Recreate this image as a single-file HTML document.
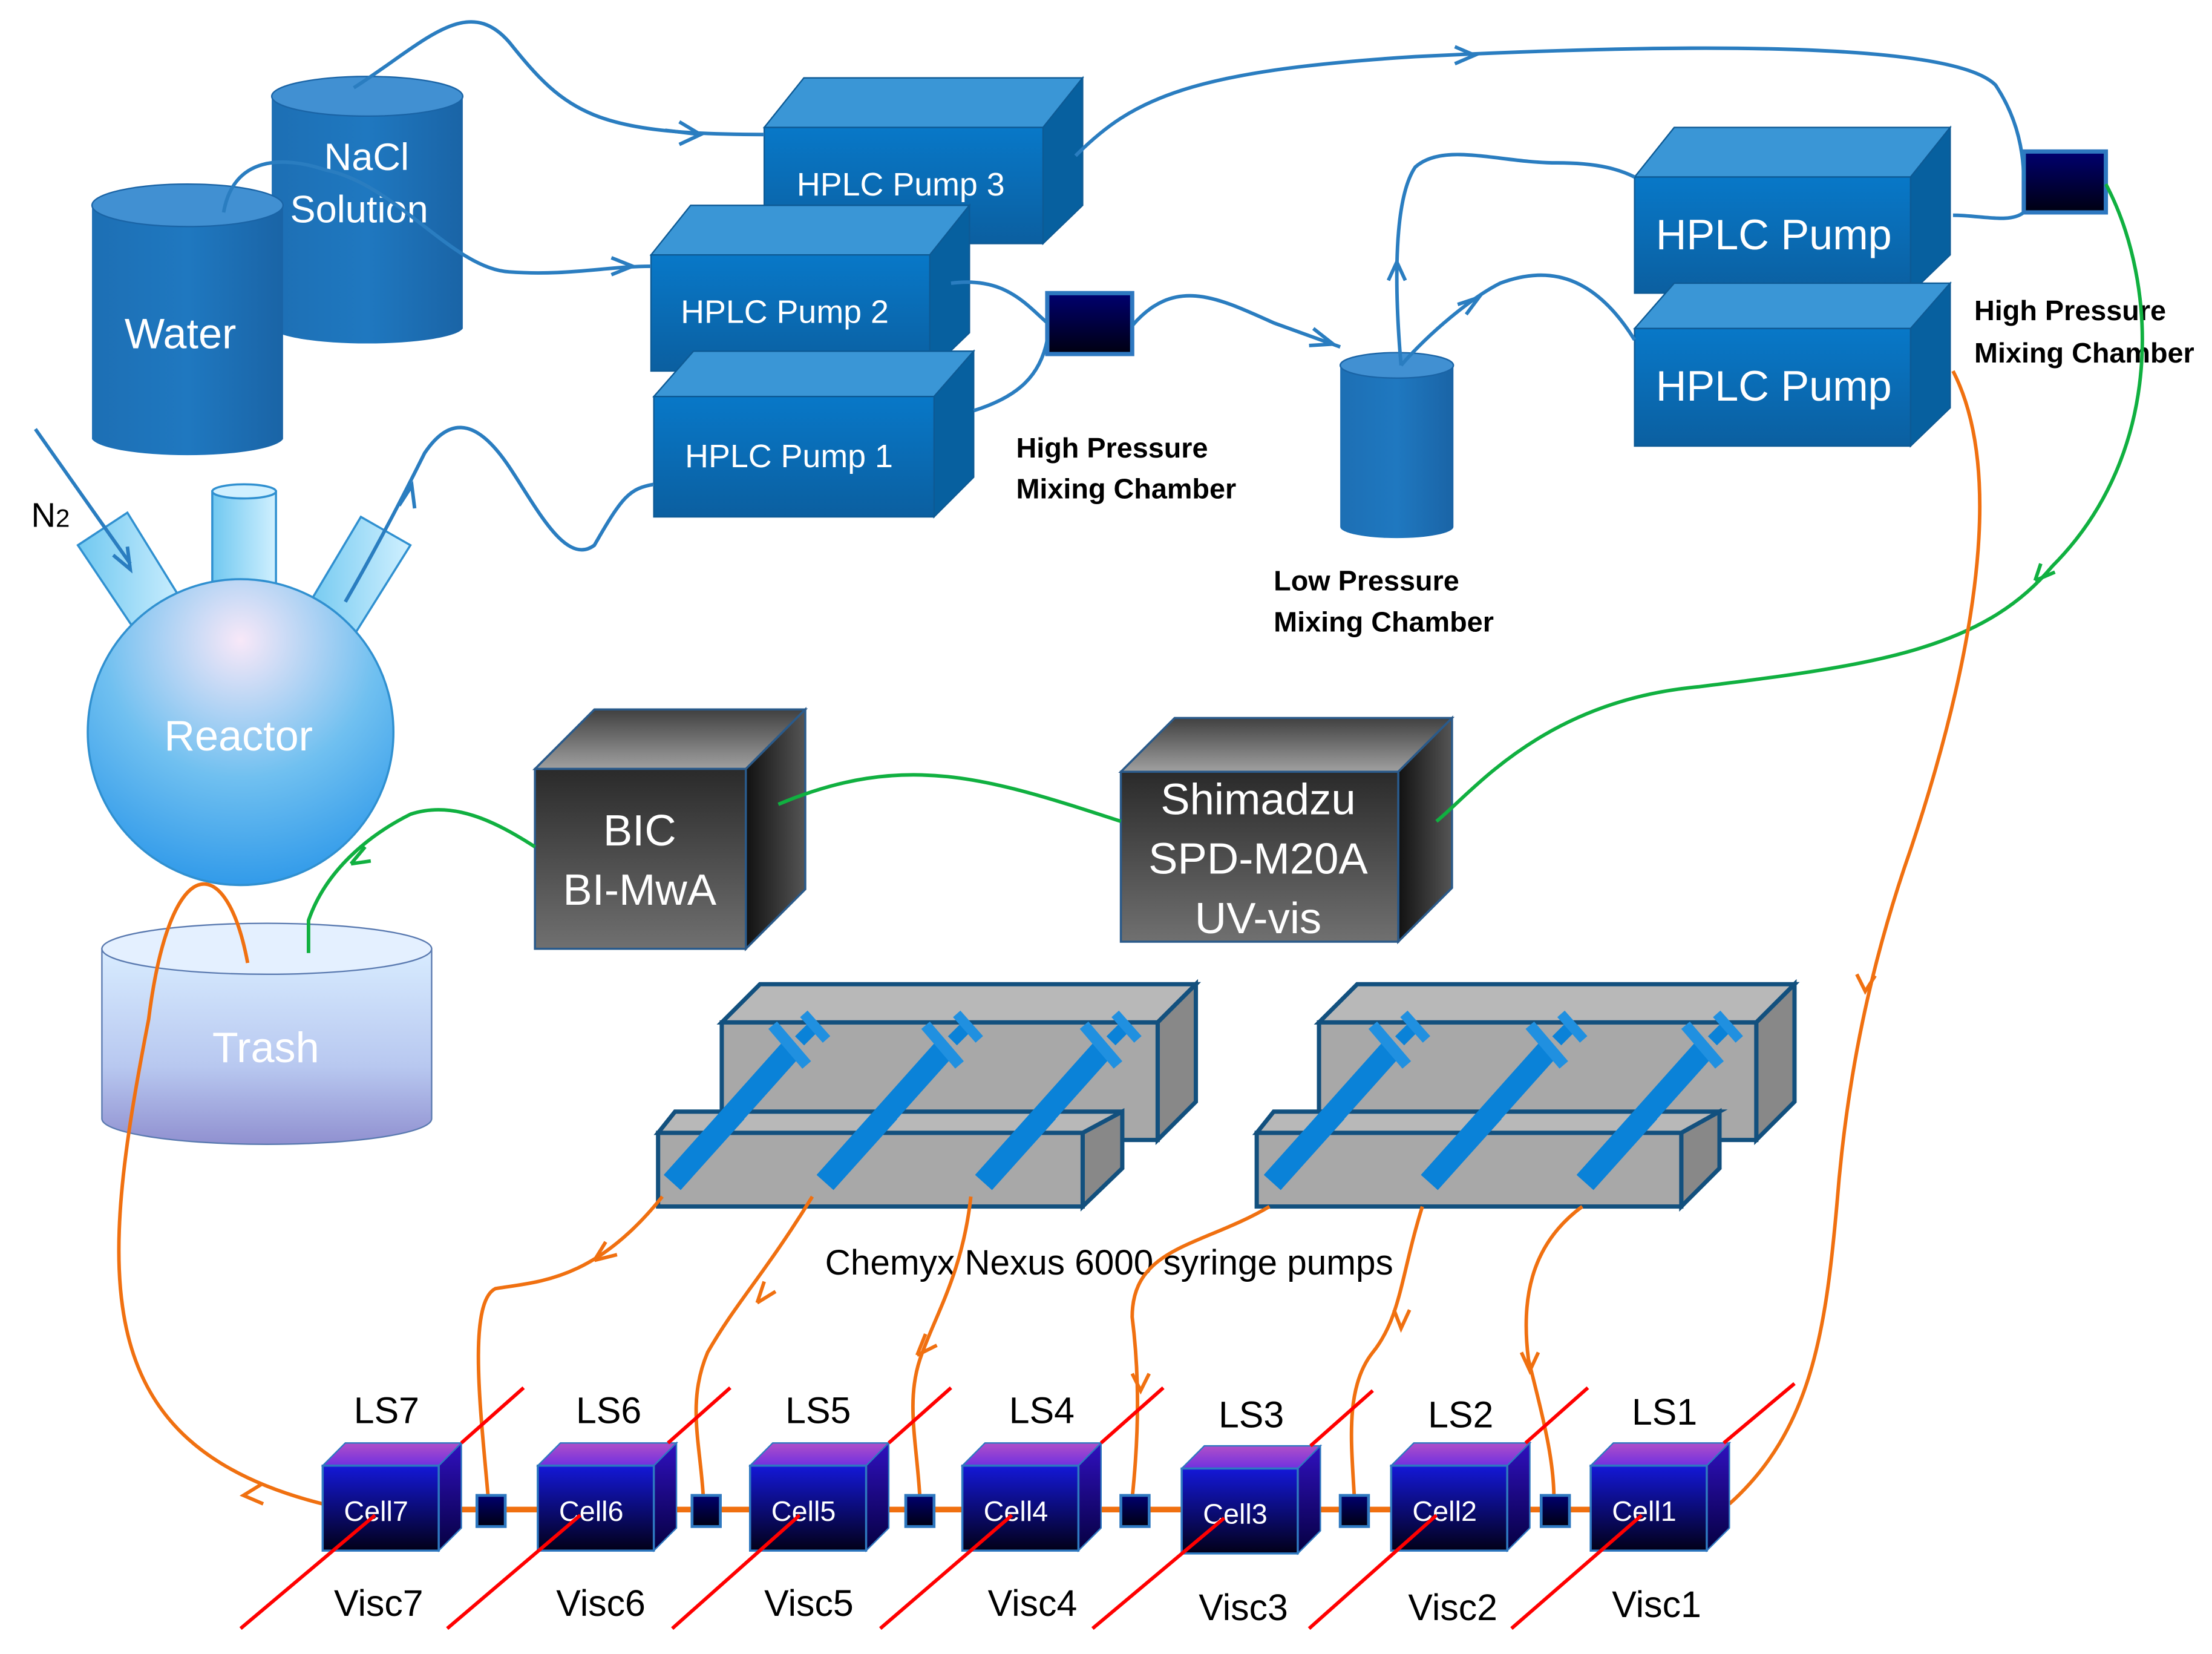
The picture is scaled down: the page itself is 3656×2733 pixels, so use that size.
<!DOCTYPE html>
<html><head><meta charset="utf-8"><style>
html,body{margin:0;padding:0;background:#fff;}
svg{display:block;}
text{font-family:"Liberation Sans","DejaVu Sans",sans-serif;}
</style></head><body>
<svg width="3656" height="2733" viewBox="0 0 1563 1168" preserveAspectRatio="none" xmlns="http://www.w3.org/2000/svg">
<defs>
<linearGradient id="bf" x1="0" y1="0" x2="0" y2="1"><stop offset="0" stop-color="#0878c8"/><stop offset="1" stop-color="#0b5fa0"/></linearGradient>
<linearGradient id="cyl" x1="0" y1="0" x2="1" y2="0"><stop offset="0" stop-color="#1d6fb4"/><stop offset="0.5" stop-color="#1f78c0"/><stop offset="1" stop-color="#1a64a6"/></linearGradient>
<linearGradient id="dk" x1="0" y1="0" x2="0" y2="1"><stop offset="0" stop-color="#2a2a2a"/><stop offset="1" stop-color="#707070"/></linearGradient>
<linearGradient id="dkt" x1="0" y1="0" x2="0" y2="1"><stop offset="0" stop-color="#404040"/><stop offset="1" stop-color="#a0a0a0"/></linearGradient>
<linearGradient id="dks" x1="0" y1="0" x2="1" y2="0"><stop offset="0" stop-color="#111"/><stop offset="1" stop-color="#555"/></linearGradient>
<linearGradient id="cf" x1="0" y1="0" x2="0" y2="1"><stop offset="0" stop-color="#1418d8"/><stop offset="1" stop-color="#020018"/></linearGradient>
<linearGradient id="ct" x1="0" y1="0" x2="0" y2="1"><stop offset="0" stop-color="#b050c8"/><stop offset="1" stop-color="#7030e0"/></linearGradient>
<linearGradient id="cs" x1="0" y1="0" x2="0" y2="1"><stop offset="0" stop-color="#3010c0"/><stop offset="1" stop-color="#050040"/></linearGradient>
<linearGradient id="mc" x1="0" y1="0" x2="0" y2="1"><stop offset="0" stop-color="#000070"/><stop offset="1" stop-color="#000010"/></linearGradient>
<radialGradient id="rg" cx="0.5" cy="0.2" r="0.9"><stop offset="0" stop-color="#f8e8f8"/><stop offset="0.5" stop-color="#70c0f0"/><stop offset="1" stop-color="#2090e8"/></radialGradient>
<linearGradient id="tr" x1="0" y1="0" x2="0" y2="1"><stop offset="0" stop-color="#d8ecff"/><stop offset="0.6" stop-color="#b8c8f0"/><stop offset="1" stop-color="#9090d0"/></linearGradient>
<linearGradient id="nk" x1="0" y1="0" x2="1" y2="0"><stop offset="0" stop-color="#70c8f0"/><stop offset="1" stop-color="#d0f0ff"/></linearGradient>
</defs>

<g stroke="#0d5a95" stroke-width="1">
<polygon points="540,90 568,55 765,55 737,90" fill="#3a96d6"/><polygon points="737,90 765,55 765,145 737,172" fill="#07609f"/><rect x="540" y="90" width="197" height="82" fill="url(#bf)"/>
<polygon points="460,180 488,145 685,145 657,180" fill="#3a96d6"/><polygon points="657,180 685,145 685,235 657,262" fill="#07609f"/><rect x="460" y="180" width="197" height="82" fill="url(#bf)"/>
<polygon points="462,280 490,248 688,248 660,280" fill="#3a96d6"/><polygon points="660,280 688,248 688,337 660,365" fill="#07609f"/><rect x="462" y="280" width="198" height="85" fill="url(#bf)"/>
<polygon points="1155,125 1183,90 1378,90 1350,125" fill="#3a96d6"/><polygon points="1350,125 1378,90 1378,180 1350,207" fill="#07609f"/><rect x="1155" y="125" width="195" height="82" fill="url(#bf)"/>
<polygon points="1155,232 1183,200 1378,200 1350,232" fill="#3a96d6"/><polygon points="1350,232 1378,200 1378,288 1350,315" fill="#07609f"/><rect x="1155" y="232" width="195" height="83" fill="url(#bf)"/>
</g>
<g fill="#fff" font-size="23">
<text x="563" y="138">HPLC Pump 3</text><text x="481" y="228">HPLC Pump 2</text><text x="484" y="330">HPLC Pump 1</text>
</g>
<g fill="#fff" font-size="30"><text x="1170" y="176">HPLC Pump</text><text x="1170" y="283">HPLC Pump</text></g>

<g>
<path d="M192,68 L192,232 A68,12 0 0 0 327,232 L327,68 Z" fill="url(#cyl)"/><ellipse cx="259.5" cy="68" rx="67.5" ry="14" fill="#4190d2" stroke="#1a64a6"/>
<path d="M65,145 L65,310 A68,13 0 0 0 200,310 L200,145 Z" fill="url(#cyl)"/><ellipse cx="132.5" cy="145" rx="67.5" ry="15" fill="#4190d2" stroke="#1a64a6"/>
<path d="M947,258 L947,372 A40,8 0 0 0 1027,372 L1027,258 Z" fill="url(#cyl)"/><ellipse cx="987" cy="258" rx="40" ry="9" fill="#4190d2" stroke="#1a64a6"/>
</g>
<g fill="#fff" font-size="27"><text x="229" y="120">NaCl</text><text x="205" y="157">Solution</text><text x="88" y="246" font-size="30">Water</text></g>

<rect x="740" y="207" width="60" height="43" fill="url(#mc)" stroke="#2e78c0" stroke-width="3"/>
<rect x="1430" y="107" width="58" height="43" fill="url(#mc)" stroke="#2e78c0" stroke-width="3"/>

<g font-weight="bold" font-size="20" fill="#000">
<text x="718" y="323">High Pressure</text><text x="718" y="352">Mixing Chamber</text>
<text x="900" y="417">Low Pressure</text><text x="900" y="446">Mixing Chamber</text>
<text x="1395" y="226">High Pressure</text><text x="1395" y="256">Mixing Chamber</text>
</g>

<g stroke="#3090d0" stroke-width="1.5">
<polygon points="55,385 90,362 132,430 100,452" fill="url(#nk)"/>
<rect x="150" y="347" width="45" height="85" fill="url(#nk)"/><ellipse cx="172.5" cy="347" rx="22.5" ry="5" fill="#d0f0ff"/>
<polygon points="255,365 290,385 248,452 215,432" fill="url(#nk)"/>
<circle cx="170" cy="517" r="108" fill="url(#rg)"/>
</g>
<text x="116" y="530" fill="#fff" font-size="30">Reactor</text>
<text x="22" y="372" font-size="24">N<tspan font-size="18">2</tspan></text>

<path d="M72,670 L72,790 A116,18 0 0 0 305,790 L305,670 Z" fill="url(#tr)" stroke="#5a7ab0"/>
<ellipse cx="188.5" cy="670" rx="116.5" ry="18" fill="#e4f0ff" stroke="#5a7ab0"/>
<text x="150" y="750" fill="#fff" font-size="30">Trash</text>

<g stroke="#2a5a8a" stroke-width="1.5">
<polygon points="378,543 420,501 569,501 527,543" fill="url(#dkt)"/><polygon points="527,543 569,501 569,628 527,670" fill="url(#dks)"/><rect x="378" y="543" width="149" height="127" fill="url(#dk)"/>
<polygon points="792,545 830,507 1026,507 988,545" fill="url(#dkt)"/><polygon points="988,545 1026,507 1026,627 988,665" fill="url(#dks)"/><rect x="792" y="545" width="196" height="120" fill="url(#dk)"/>
</g>
<g fill="#fff" font-size="31" text-anchor="middle">
<text x="452" y="597">BIC</text><text x="452" y="639">BI-MwA</text>
<text x="889" y="575">Shimadzu</text><text x="889" y="617">SPD-M20A</text><text x="889" y="659">UV-vis</text>
</g>

<g stroke="#12507e" stroke-width="3">
<polygon points="510,722 537,695 845,695 818,722" fill="#b8b8b8"/><polygon points="818,722 845,695 845,778 818,805" fill="#888"/><rect x="510" y="722" width="308" height="83" fill="#a8a8a8"/>
<polygon points="932,722 959,695 1268,695 1241,722" fill="#b8b8b8"/><polygon points="1241,722 1268,695 1268,778 1241,805" fill="#888"/><rect x="932" y="722" width="309" height="83" fill="#a8a8a8"/>
</g>
<g stroke-linecap="butt">
<g id="syr"><line x1="475" y1="835" x2="560" y2="740" stroke-width="16" stroke="#0a82d8"/><line x1="546" y1="724" x2="570" y2="752" stroke-width="8" stroke="#2090e0"/><line x1="565" y1="735" x2="575" y2="725" stroke-width="9" stroke="#0a82d8"/><line x1="568" y1="716" x2="584" y2="734" stroke-width="7" stroke="#2090e0"/></g>
</g>
<g stroke="#12507e" stroke-width="3">
<polygon points="465,800 477,785 793,785 765,800" fill="#b8b8b8"/><polygon points="765,800 793,785 793,825 765,852" fill="#888"/><rect x="465" y="800" width="300" height="52" fill="#a8a8a8"/>
<polygon points="888,800 900,785 1215,785 1188,800" fill="#b8b8b8"/><polygon points="1188,800 1215,785 1215,825 1188,852" fill="#888"/><rect x="888" y="800" width="300" height="52" fill="#a8a8a8"/>
</g>
<g>
<use href="#syr"/><use href="#syr" transform="translate(108,0)"/><use href="#syr" transform="translate(220,0)"/>
<use href="#syr" transform="translate(424,0)"/><use href="#syr" transform="translate(535,0)"/><use href="#syr" transform="translate(645,0)"/>
</g>
<g stroke="#0a82d8" stroke-width="16">
<line x1="475" y1="835" x2="520" y2="785"/><line x1="583" y1="835" x2="628" y2="785"/><line x1="695" y1="835" x2="740" y2="785"/>
<line x1="899" y1="835" x2="944" y2="785"/><line x1="1010" y1="835" x2="1055" y2="785"/><line x1="1120" y1="835" x2="1165" y2="785"/>
</g>
<text x="583" y="900" font-size="25">Chemyx Nexus 6000 syringe pumps</text>

<g fill="none" stroke="#2a7dc0" stroke-width="2.5">
<path d="M250,62 C300,30 330,-5 360,30 C400,80 420,95 540,95"/><path d="M470,92 L495,95 M480,86 L495,95 L480,102"/>
<path d="M158,150 C165,110 200,110 230,120 C280,130 320,190 360,192 C400,195 430,188 460,188"/><path d="M432,182 L447,188 L432,194"/>
<path d="M244,425 C270,380 290,340 300,320 C320,290 340,300 360,330 C380,360 400,400 420,385 C440,350 445,345 462,342"/><path d="M282,357 L291,343 L293,359"/>
<path d="M672,200 C710,195 725,215 740,228"/>
<path d="M688,290 C720,280 735,265 740,240"/>
<path d="M800,230 C830,195 860,210 900,228 L947,245"/><path d="M928,232 L942,243 L925,244"/>
<path d="M990,258 C985,200 985,140 1000,118 C1020,100 1060,115 1100,115 C1130,115 1145,120 1155,125"/><path d="M981,198 L987,185 L993,198"/>
<path d="M990,258 C1010,235 1040,210 1060,200 C1100,185 1130,200 1155,240"/><path d="M1030,215 L1045,210 L1036,222"/>
<path d="M760,110 C800,70 840,50 1000,40 C1200,30 1380,30 1410,60 C1430,90 1430,120 1430,128"/><path d="M1028,33 L1042,39 L1028,45"/>
<path d="M1380,152 C1400,152 1420,158 1430,150"/>
<path d="M25,303 L92,398"/><path d="M80,392 L92,402 L90,386"/>
</g>

<g fill="none" stroke="#10b040" stroke-width="2.5">
<path d="M1488,130 C1525,200 1530,320 1450,400 C1400,460 1320,470 1200,485 C1090,495 1040,560 1015,580"/><path d="M1438,410 L1442,398 M1438,410 L1452,404"/>
<path d="M792,580 C700,550 640,530 550,568"/>
<path d="M378,598 C350,580 320,565 290,575 C260,590 230,615 218,650 L218,673"/><path d="M248,610 L258,598 M248,610 L262,608"/>
</g>

<g fill="none" stroke="#f07010" stroke-width="2.5">
<path d="M175,680 C160,600 120,600 105,720 C70,900 60,1020 228,1062"/><path d="M185,1048 L172,1056 L186,1062"/>
<path d="M468,845 C420,905 380,905 350,910 C330,920 340,1000 345,1058"/><path d="M420,890 L428,877 M420,890 L436,886"/>
<path d="M574,845 C540,900 520,920 500,955 C485,990 495,1020 497,1058"/><path d="M535,920 L540,905 M535,920 L548,912"/>
<path d="M686,845 C680,900 660,930 650,960 C640,990 648,1020 650,1058"/><path d="M648,957 L654,942 M648,957 L662,950"/>
<path d="M897,852 C850,880 800,880 800,930 C805,970 805,1010 800,1058"/><path d="M800,970 L806,982 L812,970"/>
<path d="M1005,852 C990,900 990,930 970,955 C950,980 955,1020 957,1058"/><path d="M985,925 L990,938 L996,925"/>
<path d="M1118,852 C1080,880 1075,920 1080,960 C1090,1000 1098,1030 1098,1058"/><path d="M1075,955 L1081,968 L1087,955"/>
<path d="M1380,262 C1420,340 1390,480 1350,600 C1322,680 1305,760 1298,850 C1290,940 1280,1010 1222,1062"/><path d="M1312,688 L1318,700 L1325,689"/>
</g>
<line x1="310" y1="1066" x2="1124" y2="1066" stroke="#f07010" stroke-width="4"/>

<g font-size="20" fill="#fff">
<g id="cell">
<polygon points="228,1035 244,1019 326,1019 310,1035" fill="url(#ct)" stroke="#2e78c0"/>
<polygon points="310,1035 326,1019 326,1079 310,1095" fill="url(#cs)" stroke="#2e78c0"/>
<rect x="228" y="1035" width="82" height="60" fill="url(#cf)" stroke="#2e78c0" stroke-width="1.5"/>
</g>
<use href="#cell" transform="translate(152,0)"/><use href="#cell" transform="translate(302,0)"/><use href="#cell" transform="translate(452,0)"/>
<use href="#cell" transform="translate(607,2)"/><use href="#cell" transform="translate(755,0)"/><use href="#cell" transform="translate(896,0)"/>
<text x="243" y="1074">Cell7</text><text x="395" y="1074">Cell6</text><text x="545" y="1074">Cell5</text><text x="695" y="1074">Cell4</text>
<text x="850" y="1076">Cell3</text><text x="998" y="1074">Cell2</text><text x="1139" y="1074">Cell1</text>
</g>
<g fill="url(#mc)" stroke="#2e78c0" stroke-width="2">
<rect x="337" y="1056" width="20" height="22"/><rect x="489" y="1056" width="20" height="22"/><rect x="640" y="1056" width="20" height="22"/>
<rect x="792" y="1056" width="20" height="22"/><rect x="947" y="1056" width="20" height="22"/><rect x="1089" y="1056" width="20" height="22"/>
</g>

<g stroke="#ff0000" stroke-width="2.5">
<line x1="326" y1="1019" x2="370" y2="980"/><line x1="472" y1="1019" x2="516" y2="980"/><line x1="628" y1="1019" x2="672" y2="980"/><line x1="778" y1="1019" x2="822" y2="980"/><line x1="926" y1="1021" x2="970" y2="982"/><line x1="1078" y1="1019" x2="1122" y2="980"/><line x1="1218" y1="1019" x2="1268" y2="977"/>
<line x1="170" y1="1150" x2="265" y2="1070"/><line x1="316" y1="1150" x2="410" y2="1070"/><line x1="475" y1="1150" x2="565" y2="1070"/><line x1="622" y1="1150" x2="715" y2="1070"/><line x1="772" y1="1150" x2="865" y2="1072"/><line x1="925" y1="1150" x2="1015" y2="1070"/><line x1="1068" y1="1150" x2="1160" y2="1070"/>
</g>
<g font-size="26" fill="#000">
<text x="250" y="1005">LS7</text><text x="407" y="1005">LS6</text><text x="555" y="1005">LS5</text><text x="713" y="1005">LS4</text><text x="861" y="1008">LS3</text><text x="1009" y="1008">LS2</text><text x="1153" y="1006">LS1</text>
<text x="236" y="1141">Visc7</text><text x="393" y="1141">Visc6</text><text x="540" y="1141">Visc5</text><text x="698" y="1141">Visc4</text><text x="847" y="1144">Visc3</text><text x="995" y="1144">Visc2</text><text x="1139" y="1142">Visc1</text>
</g>
</svg>
</body></html>
